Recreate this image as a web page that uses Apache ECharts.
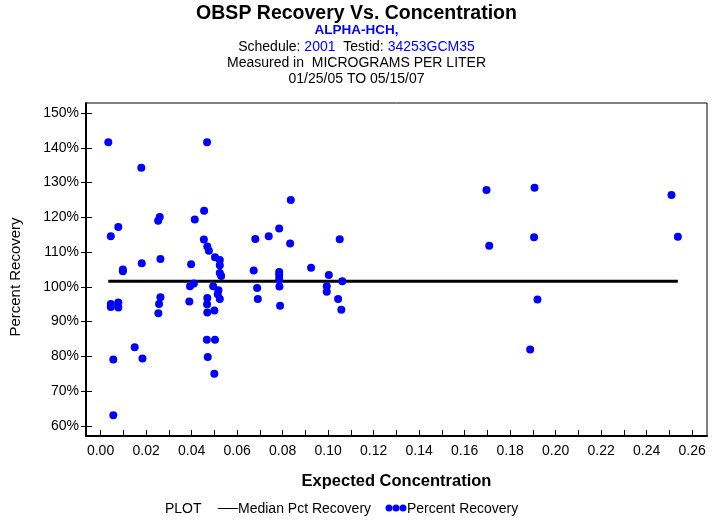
<!DOCTYPE html>
<html><head><meta charset="utf-8">
<script src="https://cdn.jsdelivr.net/npm/echarts@6/dist/echarts.min.js"></script>
<style>html,body{margin:0;padding:0;background:#fff}#c{width:713px;height:523px}</style>
</head><body><div id="c"></div>
<script>
// ---- data ----
const concentration = [
  0.0034, 0.0045, 0.0045, 0.0045, 0.0056, 0.0056, 0.0078, 0.0078, 0.0078, 0.0098, 0.0098,
  0.0150, 0.0179, 0.0181, 0.0184, 0.0260, 0.0253, 0.0263, 0.0263, 0.0257, 0.0254,
  0.0398, 0.0414, 0.0410, 0.0393, 0.0390,
  0.0468, 0.0455, 0.0454, 0.0469, 0.0476, 0.0503, 0.0524, 0.0524, 0.0524, 0.0530,
  0.0495, 0.0518, 0.0515, 0.0524, 0.0469, 0.0468, 0.0500, 0.0469, 0.0467, 0.0503, 0.0471, 0.0500,
  0.0673, 0.0680, 0.0688, 0.0691, 0.0739, 0.0785, 0.0785, 0.0785, 0.0785, 0.0786, 0.0789, 0.0836, 0.0833,
  0.0925, 0.1003, 0.0994, 0.0994, 0.1051, 0.1062, 0.1044, 0.1058,
  0.1696, 0.1708, 0.1907, 0.1905, 0.1920, 0.1888, 0.2509, 0.2537
];
const percentRecovery = [
  141.6, 114.6, 95.1, 94.2, 79.1, 63.1, 117.2, 95.5, 94.1, 105.0, 104.5,
  82.6, 134.3, 106.8, 79.4, 120.1, 119.0, 108.0, 97.0, 95.1, 92.4,
  106.5, 119.4, 101.0, 100.2, 95.8,
  141.6, 121.9, 113.6, 111.6, 110.4, 108.5, 107.7, 106.2, 104.0, 103.1,
  100.2, 99.0, 97.9, 96.5, 96.8, 95.0, 93.2, 92.6, 84.8, 84.8, 79.8, 75.0,
  104.7, 113.8, 99.7, 96.5, 114.6, 116.8, 104.3, 103.4, 102.3, 100.1, 94.6, 125.0, 112.5,
  105.5, 103.4, 100.2, 98.6, 113.7, 101.6, 96.5, 93.4,
  127.9, 111.8, 128.5, 114.3, 96.4, 82.0, 126.4, 114.4
];
const medianPctRecovery = 101.6;
const xTickValues = [0,0.01,0.02,0.03,0.04,0.05,0.06,0.07,0.08,0.09,0.10,0.11,0.12,0.13,0.14,0.15,0.16,0.17,0.18,0.19,0.20,0.21,0.22,0.23,0.24,0.25,0.26];
const xTickLabels = ['0.00','0.02','0.04','0.06','0.08','0.10','0.12','0.14','0.16','0.18','0.20','0.22','0.24','0.26'];
const yTickLabels = ['60%','70%','80%','90%','100%','110%','120%','130%','140%','150%'];

const xLabelValues = xTickLabels.map(parseFloat);
const yTickValues = yTickLabels.map(s => parseFloat(s));
const points = concentration.map((c, i) => [c, percentRecovery[i]]);
const xMinData = Math.min.apply(null, concentration);
const xMaxData = Math.max.apply(null, concentration);

const FONT = '"Liberation Sans", Arial, sans-serif';
const chart = echarts.init(document.getElementById('c'), null, {renderer: 'canvas'});

const yBase = {
  type: 'value', min: 57.1, max: 152.9, gridIndex: 0, position: 'left',
  splitLine: {show: false}
};

chart.setOption({
  animation: false,
  backgroundColor: '#fff',
  grid: {left: 86, right: 6, top: 103, bottom: 87, show: true, borderColor: '#000', borderWidth: 1, containLabel: false},
  xAxis: {
    type: 'value', min: -0.0064, max: 0.2665,
    name: 'Expected Concentration', nameLocation: 'middle', nameGap: 37,
    nameTextStyle: {fontFamily: FONT, fontSize: 16.5, fontWeight: 'bold', color: '#000'},
    axisLine: {show: true, onZero: false, lineStyle: {color: '#000', width: 2}},
    axisTick: {show: true, inside: true, length: 6, customValues: xTickValues, lineStyle: {color: '#000', width: 1}},
    axisLabel: {customValues: xLabelValues, formatter: v => v.toFixed(2), margin: 8, fontFamily: FONT, fontSize: 14, color: '#000'},
    splitLine: {show: false}
  },
  yAxis: [
    Object.assign({}, yBase, {
      axisLine: {show: true, onZero: false, lineStyle: {color: '#000', width: 2}},
      axisTick: {show: true, inside: false, length: 5, customValues: yTickValues, lineStyle: {color: '#000', width: 1}},
      axisLabel: {customValues: yTickValues, formatter: v => yTickLabels[yTickValues.indexOf(Math.round(v))], margin: 7, fontFamily: FONT, fontSize: 14, color: '#000'}
    }),
    Object.assign({}, yBase, {
      offset: 0,
      axisLine: {show: false, onZero: false},
      axisTick: {show: true, inside: true, length: 6, customValues: yTickValues, lineStyle: {color: '#000', width: 1}},
      axisLabel: {show: false}
    })
  ],
  series: [
    {
      name: 'Median Pct Recovery', type: 'line', yAxisIndex: 0,
      data: [[xMinData, medianPctRecovery], [xMaxData, medianPctRecovery]],
      symbol: 'none', lineStyle: {color: '#000', width: 3}, z: 2, silent: true
    },
    {
      name: 'Percent Recovery', type: 'scatter', yAxisIndex: 0,
      data: points, symbol: 'circle', symbolSize: 8,
      itemStyle: {color: '#0000ff', opacity: 1}, z: 3
    }
  ],
  graphic: [
    {type: 'text', x: 356.5, y: 14, style: {text: 'OBSP Recovery Vs. Concentration', font: 'bold 19.5px ' + FONT, fill: '#000', textAlign: 'center', textVerticalAlign: 'middle'}},
    {type: 'text', x: 356.5, y: 30.5, style: {text: 'ALPHA-HCH,', font: 'bold 13.5px ' + FONT, fill: '#0000ff', textAlign: 'center', textVerticalAlign: 'middle'}},
    {type: 'text', x: 356.5, y: 47, style: {
      text: '{k|Schedule: }{v|2001}{k|  Testid: }{v|34253GCM35}', textAlign: 'center', textVerticalAlign: 'middle',
      rich: {k: {font: '14px ' + FONT, fill: '#000'}, v: {font: '14px ' + FONT, fill: '#0000ff'}}
    }},
    {type: 'text', x: 356.5, y: 63, style: {text: 'Measured in  MICROGRAMS PER LITER', font: '14px ' + FONT, fill: '#000', textAlign: 'center', textVerticalAlign: 'middle'}},
    {type: 'text', x: 356.5, y: 79.5, style: {text: '01/25/05 TO 05/15/07', font: '14px ' + FONT, fill: '#000', textAlign: 'center', textVerticalAlign: 'middle'}},
    {type: 'text', x: 16, y: 277, rotation: Math.PI / 2, style: {text: 'Percent Recovery', font: '15px ' + FONT, fill: '#000', textAlign: 'center', textVerticalAlign: 'middle'}},
    // legend
    {type: 'text', x: 165, y: 509, style: {text: 'PLOT', font: '14px ' + FONT, fill: '#000', textVerticalAlign: 'middle'}},
    {type: 'line', shape: {x1: 218, y1: 508.5, x2: 238, y2: 508.5}, style: {stroke: '#000', lineWidth: 1}},
    {type: 'text', x: 238, y: 509, style: {text: 'Median Pct Recovery', font: '14px ' + FONT, fill: '#000', textVerticalAlign: 'middle'}},
    {type: 'circle', shape: {cx: 389, cy: 508, r: 3.5}, style: {fill: '#0000ff'}},
    {type: 'circle', shape: {cx: 396, cy: 508, r: 3.5}, style: {fill: '#0000ff'}},
    {type: 'circle', shape: {cx: 403, cy: 508, r: 3.5}, style: {fill: '#0000ff'}},
    {type: 'text', x: 407, y: 509, style: {text: 'Percent Recovery', font: '14px ' + FONT, fill: '#000', textVerticalAlign: 'middle'}}
  ]
});
</script>
</body></html>
